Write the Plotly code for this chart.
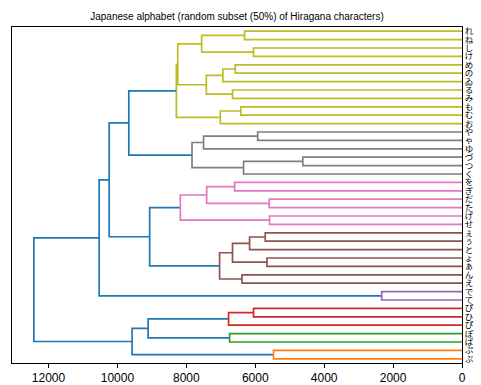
import plotly.graph_objects as go

# Leaf labels, listed top to bottom
leaf_labels = ["れ", "ね", "し", "け", "め", "の", "ゐ", "る", "み", "も",
               "む", "お", "や", "ゃ", "ゆ", "づ", "つ", "く", "を", "ぎ",
               "だ", "た", "げ", "せ", "ぇ", "ぅ", "と", "ょ", "ぁ", "ん",
               "え", "で", "て", "ぴ", "ひ", "ぴ", "ぽ", "ぱ", "ぷ", "ぶ"]

# Linkage: ids below len(leaf_labels) are leaves, id n+k is the k-th merge
merge_left = [0, 2, 40, 4, 43, 7, 44, 9, 47, 42, 49,
              12, 51, 15, 53, 52, 50,
              18, 20, 57, 22, 59,
              24, 62, 27, 63, 29, 65, 61, 56,
              31, 69, 33, 72, 36, 73, 38, 75, 71]
merge_right = [1, 3, 41, 5, 6, 8, 45, 10, 11, 46, 48,
               13, 14, 16, 17, 54, 55,
               19, 21, 58, 23, 60,
               25, 26, 28, 64, 30, 66, 67, 68,
               32, 70, 34, 35, 37, 74, 39, 76, 77]
merge_height = [6310, 6050, 7556, 6580, 6940, 6660, 7420, 6420, 7015, 8250, 8290,
                5930, 7500, 4620, 6340, 7835, 9670,
                6600, 5595, 7410, 5585, 8175,
                5710, 6165, 5660, 6660, 6385, 7035, 9065, 10240,
                2330, 10530, 6050, 6775, 6745, 9110, 5470, 9575, 12425]

palette = ["#1f77b4", "#ff7f0e", "#2ca02c", "#d62728", "#9467bd",
           "#8c564b", "#e377c2", "#7f7f7f", "#bcbd22", "#17becf"]

n = len(leaf_labels)
height = {i: 0.0 for i in range(n)}
pos = {i: float(i) for i in range(n)}
children = {}
for k, (a, b, h) in enumerate(zip(merge_left, merge_right, merge_height)):
    node = n + k
    children[node] = (a, b)
    height[node] = h
    pos[node] = (pos[a] + pos[b]) / 2
root = n + len(merge_height) - 1
threshold = 0.7 * max(merge_height)

# Clusters: maximal subtrees whose merge height is below the threshold
cluster_roots = []


def find_clusters(node):
    if node not in children:
        return
    if height[node] >= threshold:
        for c in children[node]:
            find_clusters(c)
    else:
        cluster_roots.append(node)


find_clusters(root)
cluster_roots.sort(key=lambda c: -pos[c])  # colour from the bottom up

link_color = {}


def paint(node, color):
    if node in children:
        link_color[node] = color
        for c in children[node]:
            paint(c, color)


for i, c in enumerate(cluster_roots):
    paint(c, palette[1 + i % (len(palette) - 1)])
for node in children:
    link_color.setdefault(node, palette[0])

# One trace per colour, each link drawn as a bracket
segments = {}
for node, (a, b) in children.items():
    xs, ys = segments.setdefault(link_color[node], ([], []))
    h = height[node]
    xs += [height[a], h, h, height[b], None]
    ys += [pos[a], pos[a], pos[b], pos[b], None]

fig = go.Figure()
for color, (xs, ys) in segments.items():
    fig.add_trace(go.Scatter(x=xs, y=ys, mode="lines",
                             line=dict(color=color, width=1.7),
                             hoverinfo="skip", showlegend=False))

fig.update_layout(
    width=481, height=385,
    margin=dict(l=12, r=19, t=27, b=22),
    plot_bgcolor="white", paper_bgcolor="white",
    showlegend=False,
    title=dict(text="Japanese alphabet (random subset (50%) of Hiragana characters)",
               x=0.5, xref="paper", xanchor="center",
               y=1 - 16.5 / 385, yref="container", yanchor="middle",
               font=dict(family="Liberation Sans", size=10, color="black")),
)
fig.update_xaxes(
    range=[13060, 0], automargin=False,
    tickvals=[0, 2000, 4000, 6000, 8000, 10000, 12000],
    ticktext=["0", "2000", "4000", "6000", "8000", "10000", "12000"],
    ticks="outside", ticklen=4, tickcolor="black", tickwidth=1,
    showline=True, mirror=True, linecolor="black", linewidth=1,
    showgrid=False, zeroline=False,
    tickfont=dict(family="Liberation Sans", size=12, color="black"),
)
fig.update_yaxes(
    range=[n - 0.5, -0.5], automargin=False,
    tickvals=list(range(n)), ticktext=leaf_labels,
    side="right", ticks="",
    showline=True, mirror=True, linecolor="black", linewidth=1,
    showgrid=False, zeroline=False,
    tickfont=dict(family="Noto Sans CJK JP", size=8.5, color="black"),
)

fig.write_html("out.html")
